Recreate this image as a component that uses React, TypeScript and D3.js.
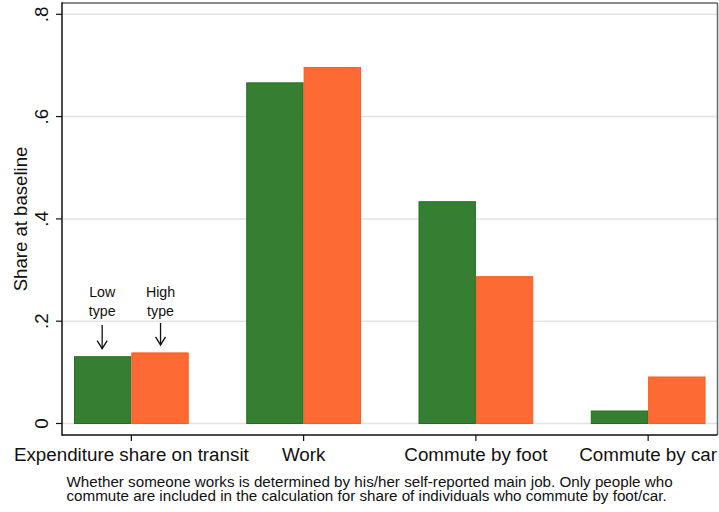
import React from "react";
import * as d3 from "d3";

const categories = ["Expenditure share on transit", "Work", "Commute by foot", "Commute by car"];
const lowType = [0.1306, 0.666, 0.4336, 0.0244];
const highType = [0.138, 0.696, 0.287, 0.0909];
const yTicks = [0, 0.2, 0.4, 0.6, 0.8];
const yTickLabels = ["0", ".2", ".4", ".6", ".8"];
const noteLines = [
  "Whether someone works is determined by his/her self-reported main job. Only people who",
  "commute are included in the calculation for share of individuals who commute by foot/car.",
];

const W = 719;
const H = 512;
const FONT = "'Liberation Sans', Arial, Helvetica, sans-serif";
const GREEN = "#367f32";
const GREEN_EDGE = "#236d20";
const ORANGE = "#fe6a33";
const ORANGE_EDGE = "#ff5a1e";

const plot = { left: 62, right: 717.5, top: 3, bottom: 435 };

export default function App() {
  const x = d3
    .scaleBand<string>()
    .domain(categories)
    .range([plot.left, plot.right])
    .paddingInner(0.334)
    .paddingOuter(0.0696);
  const inner = d3.scaleBand<string>().domain(["low", "high"]).range([0, x.bandwidth()]);
  const y = d3.scaleLinear().domain([0, 0.8]).range([423.5, 14.3]);

  const series = [
    { key: "low", values: lowType, fill: GREEN, stroke: GREEN_EDGE },
    { key: "high", values: highType, fill: ORANGE, stroke: ORANGE_EDGE },
  ];

  // arrow annotations above the first group
  const firstX = x(categories[0])!;
  const notes = [
    { key: "low", lines: ["Low", "type"], value: lowType[0] },
    { key: "high", lines: ["High", "type"], value: highType[0] },
  ];

  return (
    <svg
      width={W}
      height={H}
      viewBox={`0 0 ${W} ${H}`}
      style={{ position: "absolute", left: 0, top: 0, background: "#fff" }}
      fontFamily={FONT}
    >
      <rect x={0} y={0} width={W} height={H} fill="#fff" />

      {/* grid lines */}
      {yTicks.map((t) => (
        <line
          key={`g${t}`}
          x1={plot.left}
          x2={plot.right}
          y1={y(t)}
          y2={y(t)}
          stroke="#e3e3e3"
          strokeWidth={1.5}
        />
      ))}

      {/* bars */}
      {series.map((s) =>
        categories.map((c, i) => {
          const x0 = x(c)! + inner(s.key)!;
          const y0 = y(s.values[i]);
          return (
            <rect
              key={`${s.key}-${c}`}
              x={x0 + 0.5}
              y={y0}
              width={inner.bandwidth() - 1}
              height={y(0) - y0}
              fill={s.fill}
              stroke={s.stroke}
              strokeWidth={1}
            />
          );
        })
      )}

      {/* plot region outline */}
      <line x1={plot.left} x2={plot.right} y1={plot.top} y2={plot.top} stroke="#666" strokeWidth={1.5} />
      <line x1={plot.right} x2={plot.right} y1={plot.top} y2={plot.bottom} stroke="#666" strokeWidth={1.5} />

      {/* axes */}
      <line x1={plot.left} x2={plot.left} y1={plot.top - 0.75} y2={plot.bottom + 0.75} stroke="#111" strokeWidth={1.5} />
      <line x1={plot.left} x2={plot.right} y1={plot.bottom} y2={plot.bottom} stroke="#111" strokeWidth={1.5} />

      {yTicks.map((t, i) => (
        <g key={`yt${t}`}>
          <line x1={plot.left - 6} x2={plot.left} y1={y(t)} y2={y(t)} stroke="#111" strokeWidth={1.2} />
          <text
            transform={`translate(47.5,${y(t)}) rotate(-90)`}
            textAnchor="middle"
            fontSize={18.8}
            fill="#111"
          >
            {yTickLabels[i]}
          </text>
        </g>
      ))}

      {categories.map((c) => {
        const cx = x(c)! + x.bandwidth() / 2;
        return (
          <g key={`xt${c}`}>
            <line x1={cx} x2={cx} y1={plot.bottom} y2={plot.bottom + 6} stroke="#111" strokeWidth={1.2} />
            <text x={cx} y={460.5} textAnchor="middle" fontSize={18.8} fill="#111">
              {c}
            </text>
          </g>
        );
      })}

      <text
        transform={`translate(26.5,${(plot.top + plot.bottom) / 2}) rotate(-90)`}
        textAnchor="middle"
        fontSize={18.6}
        fill="#111"
      >
        Share at baseline
      </text>

      {notes.map((n) => {
        const cx = firstX + inner(n.key)! + inner.bandwidth() / 2 + (n.key === "low" ? -0.5 : 0.5);
        const tip = y(n.value) - 8;
        const tail = n.key === "low" ? 325 : 323;
        return (
          <g key={`n${n.key}`}>
            {n.lines.map((l, j) => (
              <text key={j} x={cx} y={297 + j * 19} textAnchor="middle" fontSize={14.2} fill="#111">
                {l}
              </text>
            ))}
            <line x1={cx} x2={cx} y1={tail} y2={tip} stroke="#111" strokeWidth={1.3} />
            <polyline
              points={`${cx - 5},${tip - 8} ${cx},${tip} ${cx + 5},${tip - 8}`}
              fill="none"
              stroke="#111"
              strokeWidth={1.3}
            />
          </g>
        );
      })}

      {noteLines.map((l, i) => (
        <text key={i} x={66.5} y={486.5 + i * 14.3} fontSize={15.2} fill="#111">
          {l}
        </text>
      ))}
    </svg>
  );
}
